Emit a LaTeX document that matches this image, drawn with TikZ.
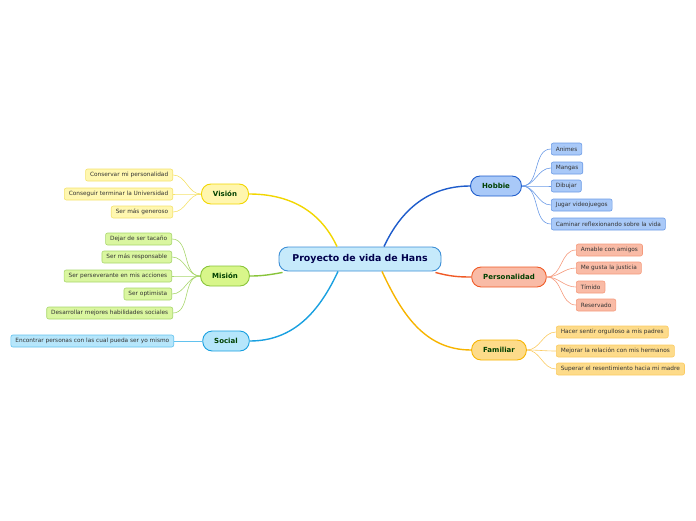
\documentclass[tikz,border=0pt]{standalone}
\usepackage{fontspec}
\setmainfont{DejaVu Sans}
\usetikzlibrary{calc}

\definecolor{rootFill}{HTML}{C6EAFB}\definecolor{rootLine}{HTML}{3D8FD6}
\definecolor{visFill}{HTML}{FFF6AE}\definecolor{visLine}{HTML}{F2D600}
\definecolor{visLeaf}{HTML}{FFF7B0}\definecolor{visEdge}{HTML}{F5E26C}
\definecolor{misFill}{HTML}{D8F68A}\definecolor{misLine}{HTML}{88C43A}
\definecolor{misLeaf}{HTML}{DAF6A0}\definecolor{misEdge}{HTML}{A8D66C}
\definecolor{socFill}{HTML}{B6E6FB}\definecolor{socLine}{HTML}{19A0E0}
\definecolor{socLeaf}{HTML}{B6E6FB}\definecolor{socEdge}{HTML}{62C2EE}
\definecolor{hobFill}{HTML}{A9C9F8}\definecolor{hobLine}{HTML}{1E5CCB}
\definecolor{hobLeaf}{HTML}{A9C9F8}\definecolor{hobEdge}{HTML}{6C9BE6}
\definecolor{perFill}{HTML}{F9BBA6}\definecolor{perLine}{HTML}{F05A26}
\definecolor{perLeaf}{HTML}{F9BBA6}\definecolor{perEdge}{HTML}{F59A7C}
\definecolor{famFill}{HTML}{FDDB8A}\definecolor{famLine}{HTML}{F7B400}
\definecolor{famLeaf}{HTML}{FDDB8A}\definecolor{famEdge}{HTML}{FBCB62}

\begin{document}
\begin{tikzpicture}[x=1pt,y=-1pt,
  root/.style={draw=rootLine,fill=rootFill,line width=0.9pt,rounded corners=9pt,
    minimum width=162pt,minimum height=24pt,font=\fontsize{9.4}{11}\selectfont\bfseries,text=blue!30!black},
  branch/.style={draw=#1Line,fill=#1Fill,line width=0.9pt,rounded corners=9.5pt,
    minimum height=20pt,inner xsep=11.5pt,font=\fontsize{7}{8}\selectfont\bfseries,text=green!25!black},
  leaf/.style={draw=#1Edge,fill=#1Leaf,line width=0.6pt,rounded corners=2pt,
    minimum height=12pt,inner xsep=4.5pt,inner ysep=0pt,font=\fontsize{5.8}{6.5}\selectfont,text=black!80},
  limb/.style={draw=#1Line,line width=1.4pt},
  twig/.style={draw=#1Edge,line width=0.6pt}]
\useasboundingbox (0,0) rectangle (696,520);
\node[root] (root) at (360,259) {Proyecto de vida de Hans};
% main branches
\node[branch=vis] (vis) at (225,194) {Visión};
\node[branch=mis] (mis) at (225,276) {Misión};
\node[branch=soc] (soc) at (226,341) {Social};
\node[branch=hob] (hob) at (496,186) {Hobbie};
\node[branch=per] (per) at (509,277) {Personalidad};
\node[branch=fam] (fam) at (499,350) {Familiar};
% leaves, left side
\node[leaf=vis,anchor=east] (v1) at (173,175) {Conservar mi personalidad};
\node[leaf=vis,anchor=east] (v2) at (173,194) {Conseguir terminar la Universidad};
\node[leaf=vis,anchor=east] (v3) at (173,212) {Ser más generoso};
\node[leaf=mis,anchor=east] (m1) at (172,239) {Dejar de ser tacaño};
\node[leaf=mis,anchor=east] (m2) at (172,257) {Ser más responsable};
\node[leaf=mis,anchor=east] (m3) at (172,276) {Ser perseverante en mis acciones};
\node[leaf=mis,anchor=east] (m4) at (172,294) {Ser optimista};
\node[leaf=mis,anchor=east] (m5) at (173,313) {Desarrollar mejores habilidades sociales};
\node[leaf=soc,anchor=east] (s1) at (174,341) {Encontrar personas con las cual pueda ser yo mismo};
% leaves, right side
\node[leaf=hob,anchor=west] (h1) at (551,149) {Animes};
\node[leaf=hob,anchor=west] (h2) at (551,168) {Mangas};
\node[leaf=hob,anchor=west] (h3) at (551,186) {Dibujar};
\node[leaf=hob,anchor=west] (h4) at (551,205) {Jugar videojuegos};
\node[leaf=hob,anchor=west] (h5) at (551,224) {Caminar reflexionando sobre la vida};
\node[leaf=per,anchor=west] (p1) at (576,250) {Amable con amigos};
\node[leaf=per,anchor=west] (p2) at (576,268) {Me gusta la justicia};
\node[leaf=per,anchor=west] (p3) at (576,287) {Tímido};
\node[leaf=per,anchor=west] (p4) at (576,305) {Reservado};
\node[leaf=fam,anchor=west] (f1) at (556,332) {Hacer sentir orgulloso a mis padres};
\node[leaf=fam,anchor=west] (f2) at (556,351) {Mejorar la relación con mis hermanos};
\node[leaf=fam,anchor=west] (f3) at (556,369) {Superar el resentimiento hacia mi madre};
% root to branches
\draw[limb=vis] ([xshift=-23pt]root.north) to[out=115,in=0] (vis.east);
\draw[limb=mis] ([xshift=4pt,yshift=-1pt]root.south west) to[out=190,in=0] (mis.east);
\draw[limb=soc] ([xshift=-22pt]root.south) to[out=-115,in=0] (soc.east);
\draw[limb=hob] ([xshift=24pt]root.north) to[out=65,in=180] (hob.west);
\draw[limb=per] ([xshift=-6pt,yshift=-1pt]root.south east) to[out=-15,in=180] (per.west);
\draw[limb=fam] ([xshift=22pt]root.south) to[out=-65,in=180] (fam.west);
% branches to leaves
\foreach \l in {v1,v2,v3} \draw[twig=vis] (vis.west) to[out=180,in=0] (\l.east);
\foreach \l in {m1,m2,m3,m4,m5} \draw[twig=mis] (mis.west) to[out=180,in=0] (\l.east);
\draw[twig=soc] (soc.west) -- (s1.east);
\foreach \l in {h1,h2,h3,h4,h5} \draw[twig=hob] (hob.east) to[out=0,in=180] (\l.west);
\foreach \l in {p1,p2,p3,p4} \draw[twig=per] (per.east) to[out=0,in=180] (\l.west);
\foreach \l in {f1,f2,f3} \draw[twig=fam] (fam.east) to[out=0,in=180] (\l.west);
\end{tikzpicture}
\end{document}
